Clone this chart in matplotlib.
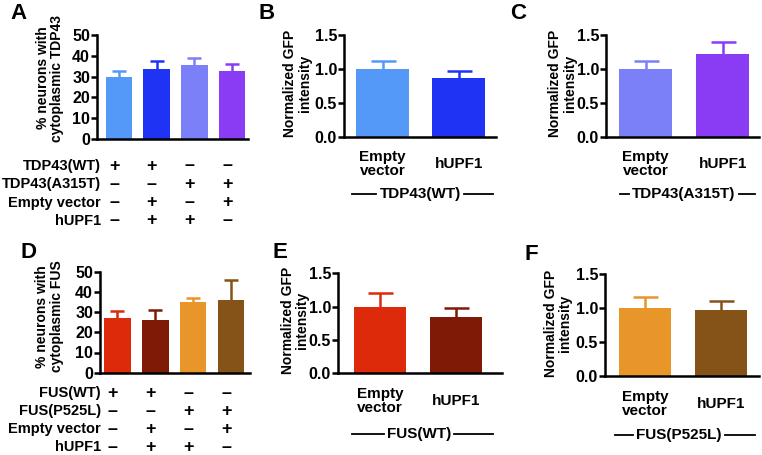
import numpy as np
import matplotlib
matplotlib.use("Agg")
import matplotlib.pyplot as plt

plt.rcParams['font.family'] = ['Liberation Sans', 'DejaVu Sans']
plt.rcParams['font.weight'] = 'bold'
plt.rcParams['axes.labelweight'] = 'bold'

# ---- data ----
tdp_means = [29.7, 33.7, 35.4, 32.8]
tdp_sem = [3.1, 3.9, 3.7, 3.1]
tdp_colors = ['#5599f8', '#1f33f5', '#7b80f8', '#8a3cf5']
tdp_rows = ['TDP43(WT)', 'TDP43(A315T)', 'Empty vector', 'hUPF1']

fus_means = [27.2, 26.1, 34.8, 35.8]
fus_sem = [3.3, 4.9, 2.3, 9.9]
fus_colors = ['#dc2a0a', '#7e1a06', '#e8952a', '#855318']
fus_rows = ['FUS(WT)', 'FUS(P525L)', 'Empty vector', 'hUPF1']

# +/- table (same pattern for both)
table = [['+', '+', '–', '–'],
         ['–', '–', '+', '+'],
         ['–', '+', '–', '+'],
         ['–', '+', '+', '–']]

gfp_labels = ['Empty\nvector', 'hUPF1']
b_means, b_sem = [1.0, 0.86], [0.11, 0.11]
c_means, c_sem = [1.0, 1.22], [0.12, 0.17]
e_means, e_sem = [1.0, 0.85], [0.20, 0.13]
f_means, f_sem = [1.0, 0.97], [0.17, 0.13]

W, H = 762, 455
fig = plt.figure(figsize=(W / 100, H / 100), dpi=100)
renderer = fig.canvas.get_renderer()


def px_axes(left, top, right, bottom):
    return fig.add_axes([left / W, 1 - bottom / H, (right - left) / W, (bottom - top) / H])


def style(ax, ymax, step, fmt):
    for s in ['top', 'right']:
        ax.spines[s].set_visible(False)
    for s in ['left', 'bottom']:
        ax.spines[s].set_linewidth(1.8)
    ax.set_ylim(0, ymax)
    ticks = np.arange(0, ymax + step / 2, step)
    ax.set_yticks(ticks)
    ax.set_yticklabels([fmt.format(t) for t in ticks], fontsize=11.5, fontweight='bold')
    ax.tick_params(axis='y', length=4, width=1.8, pad=1)
    ax.tick_params(axis='x', length=0, labelbottom=False)


def bars(ax, means, sem, colors, width, capsize):
    x = np.arange(len(means))
    ax.bar(x, means, width=width, color=colors, zorder=2)
    for xi, m, s, c in zip(x, means, sem, colors):
        eb = ax.errorbar(xi, m, yerr=[[0], [s]], fmt='none', ecolor=c, elinewidth=1.8,
                         capsize=capsize, capthick=1.8, zorder=1, clip_on=False)
        # hide the lower cap sitting on the bar top
        for cap in eb[1]:
            if np.allclose(cap.get_ydata(), m):
                cap.set_visible(False)
    return x


def letter(x, y, t):
    fig.text(x / W, 1 - y / H, t, fontsize=16, fontweight='bold', ha='left', va='top')


def ylab(x, y, t):
    fig.text(x / W, 1 - y / H, t, fontsize=10, fontweight='bold', rotation=90,
             ha='center', va='center', linespacing=1.05)


def gfp_panel(box, means, sem, colors, xlim, group, grp_y, grp_line):
    ax = px_axes(*box)
    x = bars(ax, means, sem, colors, 0.69, 9)
    ax.set_xlim(*xlim)
    style(ax, 1.5, 0.5, '{:.1f}')
    for xi, lab in zip(x, gfp_labels):
        ax.annotate(lab, (xi, 0), xycoords=('data', 'axes fraction'),
                    xytext=(0, -20), textcoords='offset points', ha='center',
                    va='center', fontsize=11, fontweight='bold', linespacing=1.0)
    # group label with side lines
    x0, xc, x1 = grp_line
    yy = 1 - grp_y / H
    t = fig.text(xc / W, yy, group, ha='center', va='center',
                 fontsize=11, fontweight='bold')
    bb = t.get_window_extent(renderer)
    fig.add_artist(plt.Line2D([x0 / W, (bb.x0 - 3) / W], [yy, yy], color='black', lw=1.3))
    fig.add_artist(plt.Line2D([(bb.x1 + 3) / W, x1 / W], [yy, yy], color='black', lw=1.3))
    return ax


def frac_panel(box, means, sem, colors, xlim, rows, row_y0, row_gap):
    ax = px_axes(*box)
    x = bars(ax, means, sem, colors, 0.70, 5)
    ax.set_xlim(*xlim)
    style(ax, 50, 10, '{:.0f}')
    bottom = box[3]
    for r, (name, signs) in enumerate(zip(rows, table)):
        y = bottom + row_y0 + r * row_gap
        fig.text(101 / W, 1 - y / H, name, ha='right', va='center',
                 fontsize=10.5, fontweight='bold')
        for xi, s in zip(x, signs):
            ax.annotate(s, (xi, 0), xycoords=('data', 'axes fraction'),
                        xytext=(-3.5, -(row_y0 + r * row_gap) * 0.72),
                        textcoords='offset points', ha='center', va='center',
                        fontsize=13, fontweight='bold')
    return ax


# ---- panel A ----
frac_panel((97, 35, 248, 139), tdp_means, tdp_sem, tdp_colors, (-0.58, 3.42),
           tdp_rows, 27, 18.3)
letter(10, 3, 'A')
ylab(50, 78, '% neurons with\ncytoplasmic TDP43')

# ---- panel B ----
gfp_panel((344, 35, 496, 136.7), b_means, b_sem, [tdp_colors[0], tdp_colors[1]],
          (-0.507, 1.49), 'TDP43(WT)', 194, (352, 420, 493))
letter(258, 3, 'B')
ylab(297.5, 83, 'Normalized GFP\nintensity')

# ---- panel C ----
gfp_panel((606, 35, 759, 136.7), c_means, c_sem, [tdp_colors[2], tdp_colors[3]],
          (-0.513, 1.47), 'TDP43(A315T)', 194, (620, 684, 755))
letter(510, 3, 'C')
ylab(562.5, 83, 'Normalized GFP\nintensity')

# ---- panel D ----
frac_panel((100, 271.7, 250, 372.7), fus_means, fus_sem, fus_colors, (-0.46, 3.5),
           fus_rows, 20.5, 18.0)
letter(20, 242, 'D')
ylab(49.5, 316.5, '% neurons with\ncytoplasmic FUS')

# ---- panel E ----
gfp_panel((338, 273.3, 501.7, 373.3), e_means, e_sem, [fus_colors[0], fus_colors[1]],
          (-0.56, 1.61), 'FUS(WT)', 434, (352, 419, 493))
letter(273, 242, 'E')
ylab(295, 320, 'Normalized GFP\nintensity')

# ---- panel F ----
gfp_panel((605, 274.3, 759, 376), f_means, f_sem, [fus_colors[2], fus_colors[3]],
          (-0.53, 1.50), 'FUS(P525L)', 435, (615, 679, 755))
letter(525, 244, 'F')
ylab(558, 323.5, 'Normalized GFP\nintensity')

fig.savefig('out.png', dpi=100)
